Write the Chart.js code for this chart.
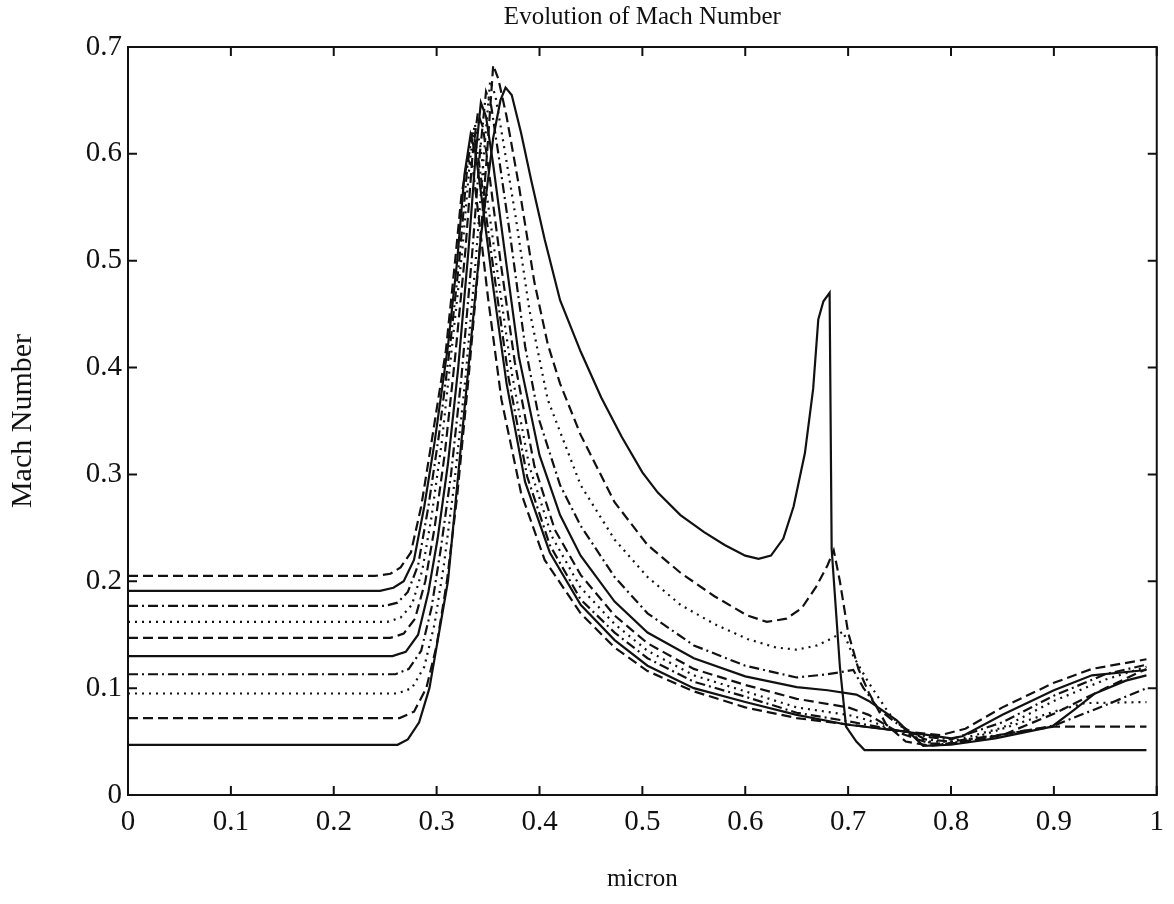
<!DOCTYPE html>
<html>
<head>
<meta charset="utf-8">
<title>Evolution of Mach Number</title>
<script src="https://cdn.jsdelivr.net/npm/chart.js@4.4.1/dist/chart.umd.min.js"></script>
<style>
  html, body { margin: 0; padding: 0; background: #fff; }
  canvas { display: block; }
</style>
</head>
<body>
<canvas id="myChart" width="1174" height="904"></canvas>
<script>
// tick labels
var xTicks = [0, 0.1, 0.2, 0.3, 0.4, 0.5, 0.6, 0.7, 0.8, 0.9, 1];
var yTicks = [0, 0.1, 0.2, 0.3, 0.4, 0.5, 0.6, 0.7];

// [micron, mach], one array per time step
var curve1 = [[0, 0.047], [0.262, 0.047], [0.272, 0.052], [0.283, 0.068], [0.293, 0.1], [0.302, 0.15], [0.311, 0.2], [0.325, 0.34], [0.343, 0.522], [0.355, 0.615], [0.362, 0.65], [0.367, 0.662], [0.373, 0.655], [0.382, 0.62], [0.392, 0.575], [0.405, 0.52], [0.42, 0.463], [0.44, 0.415], [0.46, 0.372], [0.48, 0.335], [0.5, 0.302], [0.515, 0.283], [0.537, 0.262], [0.56, 0.246], [0.58, 0.234], [0.6, 0.224], [0.613, 0.221], [0.625, 0.224], [0.637, 0.24], [0.647, 0.27], [0.658, 0.32], [0.666, 0.38], [0.671, 0.445], [0.676, 0.462], [0.682, 0.47], [0.684, 0.23], [0.692, 0.12], [0.698, 0.064], [0.708, 0.05], [0.716, 0.042], [0.99, 0.042]];
var curve2 = [[0, 0.072], [0.264, 0.072], [0.278, 0.078], [0.29, 0.1], [0.3, 0.14], [0.31, 0.2], [0.32, 0.28], [0.331, 0.39], [0.341, 0.5], [0.349, 0.6], [0.355, 0.683], [0.36, 0.67], [0.368, 0.635], [0.38, 0.57], [0.395, 0.48], [0.408, 0.422], [0.42, 0.385], [0.44, 0.337], [0.473, 0.274], [0.505, 0.234], [0.537, 0.208], [0.57, 0.186], [0.602, 0.168], [0.621, 0.162], [0.64, 0.165], [0.655, 0.175], [0.669, 0.195], [0.68, 0.215], [0.686, 0.229], [0.692, 0.2], [0.7, 0.152], [0.71, 0.118], [0.72, 0.096], [0.737, 0.066], [0.756, 0.05], [0.78, 0.046], [0.8, 0.048], [0.83, 0.053], [0.87, 0.06], [0.9, 0.064], [0.99, 0.064]];
var curve3 = [[0, 0.095], [0.262, 0.095], [0.276, 0.1], [0.288, 0.12], [0.298, 0.16], [0.307, 0.215], [0.317, 0.29], [0.328, 0.39], [0.338, 0.5], [0.346, 0.6], [0.352, 0.668], [0.357, 0.655], [0.365, 0.61], [0.377, 0.54], [0.39, 0.455], [0.408, 0.37], [0.44, 0.29], [0.473, 0.239], [0.505, 0.204], [0.537, 0.178], [0.57, 0.16], [0.602, 0.146], [0.63, 0.138], [0.65, 0.136], [0.67, 0.14], [0.685, 0.147], [0.695, 0.153], [0.705, 0.13], [0.72, 0.105], [0.74, 0.076], [0.76, 0.056], [0.785, 0.047], [0.81, 0.05], [0.85, 0.062], [0.9, 0.078], [0.93, 0.086], [0.99, 0.087]];
var curve4 = [[0, 0.113], [0.26, 0.113], [0.273, 0.118], [0.285, 0.135], [0.295, 0.175], [0.304, 0.23], [0.314, 0.3], [0.324, 0.39], [0.334, 0.5], [0.342, 0.6], [0.348, 0.658], [0.353, 0.645], [0.36, 0.6], [0.372, 0.52], [0.386, 0.42], [0.4, 0.35], [0.42, 0.29], [0.44, 0.252], [0.473, 0.204], [0.505, 0.17], [0.55, 0.14], [0.6, 0.121], [0.65, 0.11], [0.68, 0.113], [0.705, 0.117], [0.715, 0.1], [0.73, 0.08], [0.75, 0.065], [0.775, 0.052], [0.8, 0.05], [0.86, 0.058], [0.9, 0.065], [0.95, 0.084], [0.99, 0.1]];
var curve5 = [[0, 0.13], [0.257, 0.13], [0.27, 0.134], [0.282, 0.15], [0.292, 0.19], [0.301, 0.24], [0.311, 0.31], [0.321, 0.4], [0.331, 0.51], [0.338, 0.6], [0.343, 0.648], [0.348, 0.635], [0.355, 0.59], [0.366, 0.51], [0.38, 0.41], [0.4, 0.318], [0.42, 0.262], [0.44, 0.224], [0.473, 0.181], [0.505, 0.152], [0.55, 0.128], [0.6, 0.111], [0.65, 0.101], [0.68, 0.098], [0.708, 0.094], [0.72, 0.088], [0.747, 0.07], [0.773, 0.046], [0.8, 0.047], [0.843, 0.053], [0.898, 0.064], [0.92, 0.08], [0.94, 0.095], [0.97, 0.107], [0.99, 0.112]];
var curve6 = [[0, 0.147], [0.255, 0.147], [0.268, 0.151], [0.279, 0.165], [0.289, 0.2], [0.298, 0.25], [0.308, 0.32], [0.318, 0.41], [0.328, 0.51], [0.335, 0.6], [0.34, 0.638], [0.345, 0.625], [0.352, 0.575], [0.362, 0.5], [0.376, 0.405], [0.395, 0.308], [0.415, 0.248], [0.44, 0.206], [0.473, 0.168], [0.505, 0.142], [0.55, 0.118], [0.6, 0.103], [0.65, 0.09], [0.7, 0.082], [0.72, 0.075], [0.75, 0.058], [0.78, 0.048], [0.8, 0.048], [0.85, 0.056], [0.9, 0.076], [0.95, 0.1], [0.99, 0.118]];
var curve7 = [[0, 0.162], [0.252, 0.162], [0.265, 0.166], [0.276, 0.178], [0.286, 0.21], [0.295, 0.26], [0.305, 0.33], [0.315, 0.42], [0.325, 0.51], [0.332, 0.59], [0.337, 0.628], [0.342, 0.61], [0.349, 0.56], [0.359, 0.49], [0.373, 0.395], [0.39, 0.308], [0.412, 0.242], [0.44, 0.194], [0.473, 0.16], [0.505, 0.135], [0.55, 0.112], [0.6, 0.097], [0.65, 0.082], [0.7, 0.075], [0.72, 0.07], [0.75, 0.058], [0.78, 0.05], [0.8, 0.05], [0.85, 0.063], [0.9, 0.088], [0.95, 0.108], [0.99, 0.12]];
var curve8 = [[0, 0.177], [0.25, 0.177], [0.262, 0.18], [0.272, 0.19], [0.282, 0.215], [0.292, 0.27], [0.302, 0.335], [0.313, 0.42], [0.322, 0.5], [0.33, 0.59], [0.335, 0.622], [0.34, 0.6], [0.347, 0.55], [0.357, 0.48], [0.37, 0.39], [0.388, 0.298], [0.41, 0.234], [0.44, 0.183], [0.473, 0.152], [0.505, 0.128], [0.55, 0.106], [0.6, 0.092], [0.65, 0.077], [0.7, 0.069], [0.75, 0.06], [0.78, 0.054], [0.8, 0.052], [0.85, 0.068], [0.9, 0.093], [0.95, 0.113], [0.99, 0.122]];
var curve9 = [[0, 0.191], [0.245, 0.191], [0.258, 0.194], [0.268, 0.2], [0.278, 0.22], [0.288, 0.27], [0.298, 0.33], [0.311, 0.42], [0.32, 0.5], [0.327, 0.58], [0.333, 0.618], [0.338, 0.6], [0.345, 0.55], [0.355, 0.475], [0.368, 0.385], [0.386, 0.293], [0.41, 0.227], [0.44, 0.178], [0.473, 0.145], [0.505, 0.121], [0.55, 0.1], [0.6, 0.087], [0.65, 0.075], [0.698, 0.066], [0.75, 0.06], [0.8, 0.053], [0.811, 0.055], [0.85, 0.075], [0.9, 0.098], [0.937, 0.112], [0.99, 0.117]];
var curve10 = [[0, 0.205], [0.24, 0.205], [0.255, 0.207], [0.265, 0.213], [0.275, 0.227], [0.285, 0.27], [0.295, 0.33], [0.309, 0.416], [0.318, 0.5], [0.324, 0.56], [0.33, 0.595], [0.335, 0.588], [0.341, 0.54], [0.35, 0.465], [0.363, 0.37], [0.382, 0.283], [0.405, 0.22], [0.44, 0.17], [0.473, 0.138], [0.505, 0.116], [0.55, 0.097], [0.6, 0.082], [0.65, 0.072], [0.7, 0.066], [0.75, 0.06], [0.79, 0.056], [0.814, 0.062], [0.85, 0.082], [0.9, 0.105], [0.937, 0.118], [0.99, 0.127]];

var curves = [curve1, curve2, curve3, curve4, curve5, curve6, curve7, curve8, curve9, curve10];

// matlab line style order: solid, dashed, dotted, dash-dot
var styles = [[], [10, 5], [2, 5], [10, 4, 2, 4]];

var datasets = [];
for (var i = 0; i < curves.length; i++) {
    var pts = [];
    for (var j = 0; j < curves[i].length; j++) {
        pts.push({ x: curves[i][j][0], y: curves[i][j][1] });
    }
    datasets.push({
        data: pts,
        borderColor: '#111',
        borderWidth: 2.2,
        borderDash: styles[i % 4],
        pointRadius: 0,
        tension: 0,
        fill: false
    });
}

// box round the plot with inward ticks
var boxPlugin = {
    id: 'box',
    afterDraw: function (chart) {
        var ctx = chart.ctx;
        var a = chart.chartArea;
        var xs = chart.scales.x;
        var ys = chart.scales.y;
        ctx.save();
        ctx.strokeStyle = '#111';
        ctx.lineWidth = 2;
        ctx.setLineDash([]);
        ctx.strokeRect(a.left, a.top, a.right - a.left, a.bottom - a.top);
        ctx.beginPath();
        for (var i = 0; i < xTicks.length; i++) {
            var px = xs.getPixelForValue(xTicks[i]);
            ctx.moveTo(px, a.bottom); ctx.lineTo(px, a.bottom - 9);
            ctx.moveTo(px, a.top); ctx.lineTo(px, a.top + 9);
        }
        for (var i = 0; i < yTicks.length; i++) {
            var py = ys.getPixelForValue(yTicks[i]);
            ctx.moveTo(a.left, py); ctx.lineTo(a.left + 9, py);
            ctx.moveTo(a.right, py); ctx.lineTo(a.right - 9, py);
        }
        ctx.stroke();
        ctx.restore();
    }
};

var serif = 'Liberation Serif';
var ctx = document.getElementById('myChart').getContext('2d');
var myChart = new Chart(ctx, {
    type: 'line',
    data: { datasets: datasets },
    plugins: [boxPlugin],
    options: {
        responsive: false,
        animation: false,
        devicePixelRatio: 1,
        layout: { padding: { left: 0, right: 12, top: 0, bottom: 0 } },
        plugins: {
            legend: { display: false },
            tooltip: { enabled: false },
            title: {
                display: true,
                fullSize: false,
                text: 'Evolution of Mach Number',
                color: '#111',
                font: { family: serif, size: 25, weight: 'normal' },
                padding: { top: 2, bottom: 15 }
            }
        },
        scales: {
            x: {
                type: 'linear',
                min: 0,
                max: 1,
                afterFit: function (s) { s.height = 109; },
                afterBuildTicks: function (s) { s.ticks = xTicks.map(function (v) { return { value: v }; }); },
                grid: { display: false, drawTicks: false },
                border: { display: false },
                ticks: {
                    color: '#111',
                    padding: 10,
                    maxRotation: 0,
                    font: { family: serif, size: 29 },
                    callback: function (v) { return String(Math.round(v * 10) / 10); }
                },
                title: {
                    display: true,
                    text: 'micron',
                    color: '#111',
                    font: { family: serif, size: 25 },
                    padding: { top: 0, bottom: 10 }
                }
            },
            y: {
                type: 'linear',
                min: 0,
                max: 0.7,
                afterFit: function (s) { s.width = 128; },
                afterBuildTicks: function (s) { s.ticks = yTicks.map(function (v) { return { value: v }; }); },
                grid: { display: false, drawTicks: false },
                border: { display: false },
                ticks: {
                    color: '#111',
                    padding: 6,
                    font: { family: serif, size: 29 },
                    callback: function (v) { return String(Math.round(v * 10) / 10); }
                },
                title: {
                    display: true,
                    text: 'Mach Number',
                    color: '#111',
                    font: { family: serif, size: 30 },
                    padding: { top: 5, bottom: 0 }
                }
            }
        }
    }
});
</script>
</body>
</html>
